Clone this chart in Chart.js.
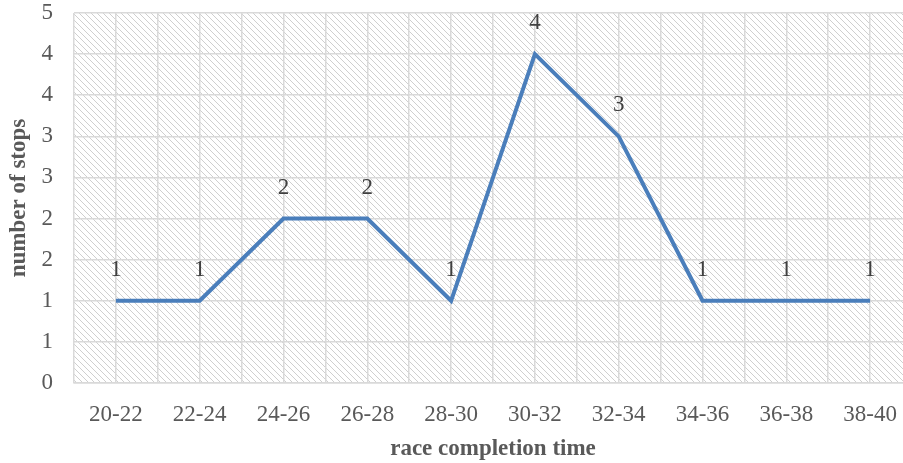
<!DOCTYPE html>
<html>
<head>
<meta charset="utf-8">
<title>number of stops by race completion time</title>
<script src="https://cdn.jsdelivr.net/npm/chart.js@4.4.1/dist/chart.umd.min.js"></script>
<style>
  html, body { margin: 0; padding: 0; background: #ffffff; overflow: hidden; }
  #wrap { width: 912px; height: 463px; }
</style>
</head>
<body>
<div id="wrap"><canvas id="chart" width="912" height="463"></canvas></div>
<script>
// Race completion time bins (minutes)
const categories = ['20-22', '22-24', '24-26', '26-28', '28-30', '30-32', '32-34', '34-36', '36-38', '38-40'];
// Number of stops in each bin
const stops = [1, 1, 2, 2, 1, 4, 3, 1, 1, 1];
// Y tick labels (ticks every 0.5, shown rounded to whole numbers)
const yTickLabels = ['0', '1', '1', '2', '2', '3', '3', '4', '4', '5'];

const FONT = '"Liberation Serif", "Times New Roman", serif';
const TEXT = '#595959';
const GRID = '#d9d9d9';
const LINE = '#4a7ebb';

// Diagonal hatch fill for the plot area
function makeHatch(ctx) {
  const s = 6;
  const c = document.createElement('canvas');
  c.width = s; c.height = s;
  const g = c.getContext('2d');
  g.fillStyle = '#ffffff';
  g.fillRect(0, 0, s, s);
  g.strokeStyle = '#cfcfcf';
  g.lineWidth = 1;
  g.beginPath();
  g.moveTo(-1, -1); g.lineTo(s + 1, s + 1);
  g.moveTo(-1, s - 1); g.lineTo(1, s + 1);
  g.moveTo(s - 1, -1); g.lineTo(s + 1, 1);
  g.stroke();
  return ctx.createPattern(c, 'repeat');
}

const hatchBackground = {
  id: 'hatchBackground',
  beforeDraw(chart) {
    const { ctx, chartArea: a } = chart;
    ctx.save();
    ctx.fillStyle = makeHatch(ctx);
    ctx.fillRect(a.left, a.top, a.right - a.left, a.bottom - a.top);
    ctx.restore();
  }
};

const valueLabels = {
  id: 'valueLabels',
  afterDatasetsDraw(chart) {
    const { ctx } = chart;
    const meta = chart.getDatasetMeta(0);
    ctx.save();
    ctx.font = '23px ' + FONT;
    ctx.fillStyle = '#404040';
    ctx.textAlign = 'center';
    ctx.textBaseline = 'middle';
    meta.data.forEach((pt, i) => {
      ctx.fillText(String(stops[i]), pt.x, pt.y - 31);
    });
    ctx.restore();
  }
};

new Chart(document.getElementById('chart'), {
  type: 'line',
  data: {
    datasets: [{
      data: stops.map((v, i) => ({ x: i, y: v })),
      borderColor: LINE,
      borderWidth: 4,
      borderJoinStyle: 'miter',
      borderCapStyle: 'butt',
      pointRadius: 0,
      tension: 0,
      fill: false
    }]
  },
  options: {
    responsive: false,
    animation: false,
    layout: { padding: 0 },
    plugins: {
      legend: { display: false },
      tooltip: { enabled: false }
    },
    scales: {
      x: {
        type: 'linear',
        min: -0.5,
        max: categories.length - 0.5,
        border: { display: true, color: GRID, width: 1.5 },
        grid: { color: GRID, lineWidth: 1.5, drawTicks: false },
        afterFit: s => { s.height = 80; s.paddingLeft = 0; s.paddingRight = 0; },
        ticks: {
          stepSize: 0.5,
          autoSkip: false,
          maxRotation: 0,
          padding: 18,
          color: TEXT,
          font: { family: FONT, size: 23 },
          callback: v => Number.isInteger(v) && v >= 0 ? categories[v] : ''
        },
        title: {
          display: true,
          text: 'race completion time',
          color: TEXT,
          font: { family: FONT, size: 23, weight: 'bold' },
          padding: { top: 6, bottom: 0 }
        }
      },
      y: {
        min: 0,
        max: 4.5,
        border: { display: false },
        grid: { color: GRID, lineWidth: 1.5, drawTicks: false },
        afterFit: s => { s.width = 74; s.paddingTop = 13; s.paddingBottom = 0; },
        ticks: {
          stepSize: 0.5,
          padding: 21,
          color: TEXT,
          font: { family: FONT, size: 23 },
          callback: (v, i) => yTickLabels[i]
        },
        title: {
          display: true,
          text: 'number of stops',
          color: TEXT,
          font: { family: FONT, size: 23, weight: 'bold' },
          padding: { top: 5, bottom: 0 }
        }
      }
    }
  },
  plugins: [hatchBackground, valueLabels]
});
</script>
</body>
</html>
